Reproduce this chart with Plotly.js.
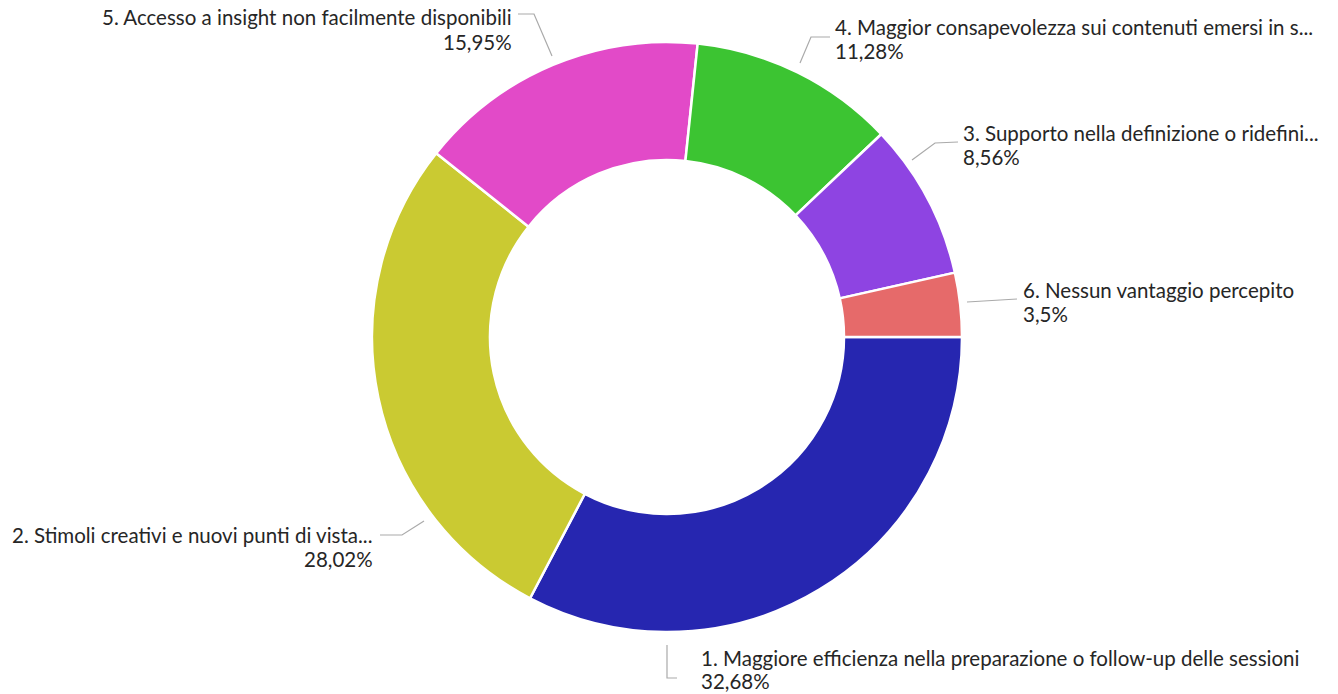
<!DOCTYPE html>
<html>
<head>
<meta charset="utf-8">
<script src="https://cdn.plot.ly/plotly-3.0.1.min.js"></script>
<style>
html,body{margin:0;padding:0;background:#fff;}
#chart{width:1338px;height:694px;}
</style>
</head>
<body>
<div id="chart"></div>
<script>
// ---- data (clockwise order starting at 3 o'clock) ----
var labels = [
  "1. Maggiore efficienza nella preparazione o follow-up delle sessioni",
  "2. Stimoli creativi e nuovi punti di vista...",
  "5. Accesso a insight non facilmente disponibili",
  "4. Maggior consapevolezza sui contenuti emersi in s...",
  "3. Supporto nella definizione o ridefini...",
  "6. Nessun vantaggio percepito"
];
var values = [32.68, 28.02, 15.95, 11.28, 8.56, 3.5];
var colors = ["#2626B0", "#CACA32", "#E24AC8", "#3CC432", "#8E44E2", "#E66A6A"];

// ---- label layout (pixel positions in the 1338x694 page) ----
var W = 1338, H = 694;
var labelLayout = [
  {tx: 700, ty1: 658, ty2: 681, align: "left",  path: [[667,645],[667,678],[677,678]]},
  {tx: 374, ty1: 535, ty2: 559, align: "right", path: [[424,521],[402,535],[380,535]]},
  {tx: 513, ty1: 17,  ty2: 42,  align: "right", path: [[552,56],[534,14],[518,14]]},
  {tx: 834, ty1: 27,  ty2: 51,  align: "left",  path: [[800,63],[811,37],[830,37]]},
  {tx: 962, ty1: 133, ty2: 157, align: "left",  path: [[912,160],[935,143],[958,142]]},
  {tx: 1022,ty1: 290, ty2: 314, align: "left",  path: [[967,302],[1017,299]]}
];
var center = {x: 667, y: 337}, radius = 295;

function px(x){ return x / W; }
function py(y){ return 1 - y / H; }
function fmt(v){ return String(v).replace('.', ',') + '%'; }

var trace = {
  type: 'pie',
  labels: labels,
  values: values,
  sort: false,
  direction: 'clockwise',
  rotation: 90,
  hole: 0.6,
  marker: {colors: colors, line: {color: '#ffffff', width: 2.5}},
  textinfo: 'none',
  hoverinfo: 'label+percent',
  showlegend: false,
  domain: {
    x: [px(center.x - radius), px(center.x + radius)],
    y: [py(center.y + radius), py(center.y - radius)]
  }
};

var font = {family: 'Lato, "Liberation Sans", sans-serif', size: 20.5, color: '#262626'};
var annotations = [], shapes = [];
labels.forEach(function(lab, i){
  var L = labelLayout[i];
  annotations.push({
    xref: 'paper', yref: 'paper', x: px(L.tx), y: py(L.ty1),
    xanchor: L.align, yanchor: 'middle', text: lab, showarrow: false, font: font, borderpad: 0
  });
  annotations.push({
    xref: 'paper', yref: 'paper', x: px(L.tx), y: py(L.ty2),
    xanchor: L.align, yanchor: 'middle', text: fmt(values[i]), showarrow: false, font: font, borderpad: 0
  });
  var d = L.path.map(function(p, k){ return (k ? 'L' : 'M') + px(p[0]) + ',' + py(p[1]); }).join(' ');
  shapes.push({type: 'path', xref: 'paper', yref: 'paper', path: d, line: {color: '#aaaaaa', width: 1.2}});
});

var layout = {
  width: W, height: H,
  margin: {l: 0, r: 0, t: 0, b: 0},
  paper_bgcolor: '#ffffff',
  annotations: annotations,
  shapes: shapes
};

Plotly.newPlot('chart', [trace], layout, {displayModeBar: false, staticPlot: true});
</script>
</body>
</html>
